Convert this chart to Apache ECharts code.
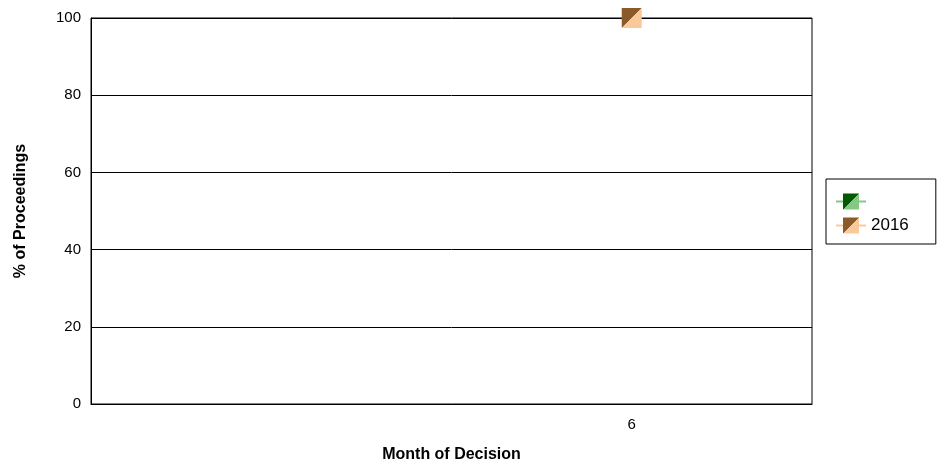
<!DOCTYPE html>
<html><head><meta charset="utf-8">
<script src="https://cdn.jsdelivr.net/npm/echarts@6/dist/echarts.min.js"></script>
<style>html,body{margin:0;padding:0;background:#fff;overflow:hidden}#c{width:937px;height:468px}</style>
</head><body><div id="c"></div>
<script>
const categories = ["", "6"];
const seriesNames = [" ", "2016"];
const seriesGreen = [null, null];
const series2016 = [null, 100];
const yTicks = [0, 20, 40, 60, 80, 100];

function split(dark, light) {
  return {type:'linear', x:0, y:0, x2:1, y2:1, colorStops:[
    {offset:0, color:dark},{offset:0.5, color:dark},{offset:0.5, color:light},{offset:1, color:light}]};
}
const chart = echarts.init(document.getElementById('c'));
chart.setOption({
  animation:false,
  textStyle:{fontFamily:'Liberation Sans, Arial, sans-serif'},
  grid:{left:91, width:721, top:18, height:389, show:true, borderColor:'#000', borderWidth:1},
  legend:{
    orient:'vertical', left:826, top:179,
    padding:[14,27,10,9], itemGap:7, itemWidth:30, itemHeight:20,
    borderColor:'#000', borderWidth:1,
    textStyle:{fontSize:17, color:'#000'},
    data:seriesNames
  },
  xAxis:{
    type:'category', data:categories, boundaryGap:true,
    name:'Month of Decision', nameLocation:'middle', nameGap:43,
    nameTextStyle:{fontWeight:'bold', fontSize:16, color:'#000'},
    axisLine:{lineStyle:{color:'#000', width:1}},
    axisTick:{show:false},
    axisLabel:{color:'#000', fontSize:15, margin:13}
  },
  yAxis:{
    type:'value', min:yTicks[0], max:yTicks[yTicks.length-1], interval:20,
    name:'% of Proceedings', nameLocation:'middle', nameGap:62,
    nameTextStyle:{fontWeight:'bold', fontSize:16, color:'#000'},
    axisLine:{show:true, lineStyle:{color:'#000', width:1}},
    axisTick:{show:false},
    axisLabel:{color:'#000', fontSize:15, margin:10},
    splitLine:{lineStyle:{color:'#000', width:1}}
  },
  series:[
    {name:seriesNames[0], type:'line', data:seriesGreen, symbol:'rect', symbolSize:20,
     itemStyle:{color:split('#005a00','#84c884')}, lineStyle:{color:'#84c884', width:1}},
    {name:seriesNames[1], type:'line', data:series2016, symbol:'rect', symbolSize:20, clip:false,
     itemStyle:{color:split('#8b5a2b','#f9c99a')}, lineStyle:{color:'#f9c99a', width:1}}
  ]
});
</script></body></html>
